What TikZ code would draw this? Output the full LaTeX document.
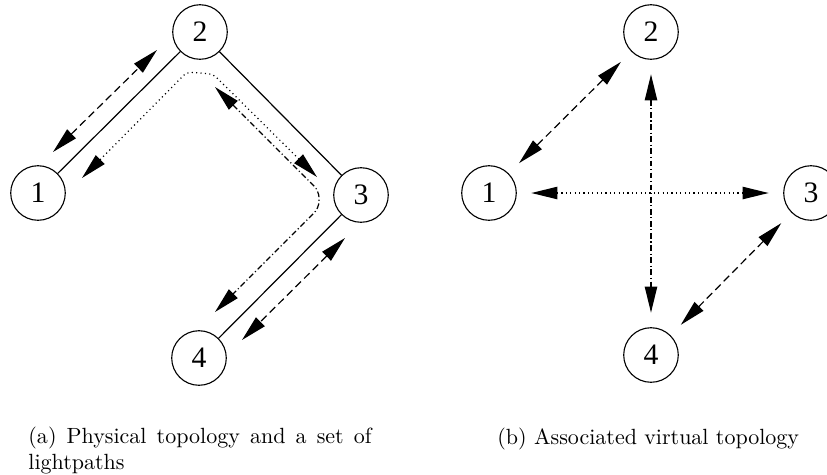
\documentclass[tikz,border=0pt]{standalone}
\usepackage{fontspec}
\newfontfamily\labelfont{Liberation Serif}
\usetikzlibrary{arrows.meta}
\begin{document}
\begin{tikzpicture}[x=0.4545pt,y=-0.4545pt,
  vertex/.style={circle,draw,line width=0.5pt,minimum size=24.8pt,inner sep=0pt,font=\labelfont\fontsize{13.5}{15}\selectfont},
  phys/.style={line width=0.55pt},
  bitip/.style={{Triangle[length=11.8pt,width=5.6pt]}-{Triangle[length=11.8pt,width=5.6pt]}},
  lpdash/.style={bitip,line width=0.55pt,dash pattern=on 3.5pt off 2pt},
  lpdot/.style={bitip,line width=0.55pt,dash pattern=on 0.5pt off 1.5pt},
  lpdashdot/.style={bitip,line width=0.55pt,dash pattern=on 2.6pt off 1.2pt on 0.5pt off 1.2pt},
  vgap/.style={shorten <=6.6pt,shorten >=6.6pt},
  captext/.style={inner sep=0pt,font=\rmfamily\fontsize{10}{12}\selectfont}]
\path[use as bounding box,clip] (0,0) rectangle (827,474);
% ---------- (a) physical topology ----------
\node[vertex] (a1) at (38,193) {1};
\node[vertex] (a2) at (200,32) {2};
\node[vertex] (a3) at (361,195) {3};
\node[vertex] (a4) at (199,358) {4};
\draw[phys] (a1) -- (a2);
\draw[phys] (a2) -- (a3);
\draw[phys] (a3) -- (a4);
% lightpath 1-2 (dashed)
\coordinate (d12a) at (53,152);
\coordinate (d12b) at (157,50);
\draw[lpdash] (d12a) -- (d12b);
% lightpath 3-4 (dashed)
\coordinate (d34a) at (345,238);
\coordinate (d34b) at (242,340);
\draw[lpdash] (d34a) -- (d34b);
% lightpath 1-2-3 (dotted)
\coordinate (p1) at (82,178);
\coordinate (p2) at (187,72);
\coordinate (p3) at (213,74);
\coordinate (p4) at (317,177);
\draw[lpdot,rounded corners=2pt] (p1) -- (p2) -- (p3) -- (p4);
% lightpath 2-3-4 (dash-dot)
\coordinate (q1) at (215,87);
\coordinate (q2) at (319,191);
\coordinate (q3) at (319,208);
\coordinate (q4) at (215,312);
\draw[lpdashdot,rounded corners=3pt] (q1) -- (q2) -- (q3) -- (q4);
% ---------- (b) virtual topology ----------
\node[vertex] (b1) at (489,193) {1};
\node[vertex] (b2) at (651,32) {2};
\node[vertex] (b3) at (811,193) {3};
\node[vertex] (b4) at (651,355) {4};
\draw[lpdash,vgap] (b1) -- (b2);
\draw[lpdot,vgap] (b1) -- (b3);
\draw[lpdashdot,vgap] (b2) -- (b4);
\draw[lpdash,vgap] (b3) -- (b4);
% ---------- captions ----------
\node[captext,anchor=north west,text width=156pt,align=justify] (capa) at (28,426.5)
  {(a) Physical topology and a set of lightpaths};
\node[captext,anchor=base west] (capb) at (497,444) {(b) Associated virtual topology};
\end{tikzpicture}
\end{document}
